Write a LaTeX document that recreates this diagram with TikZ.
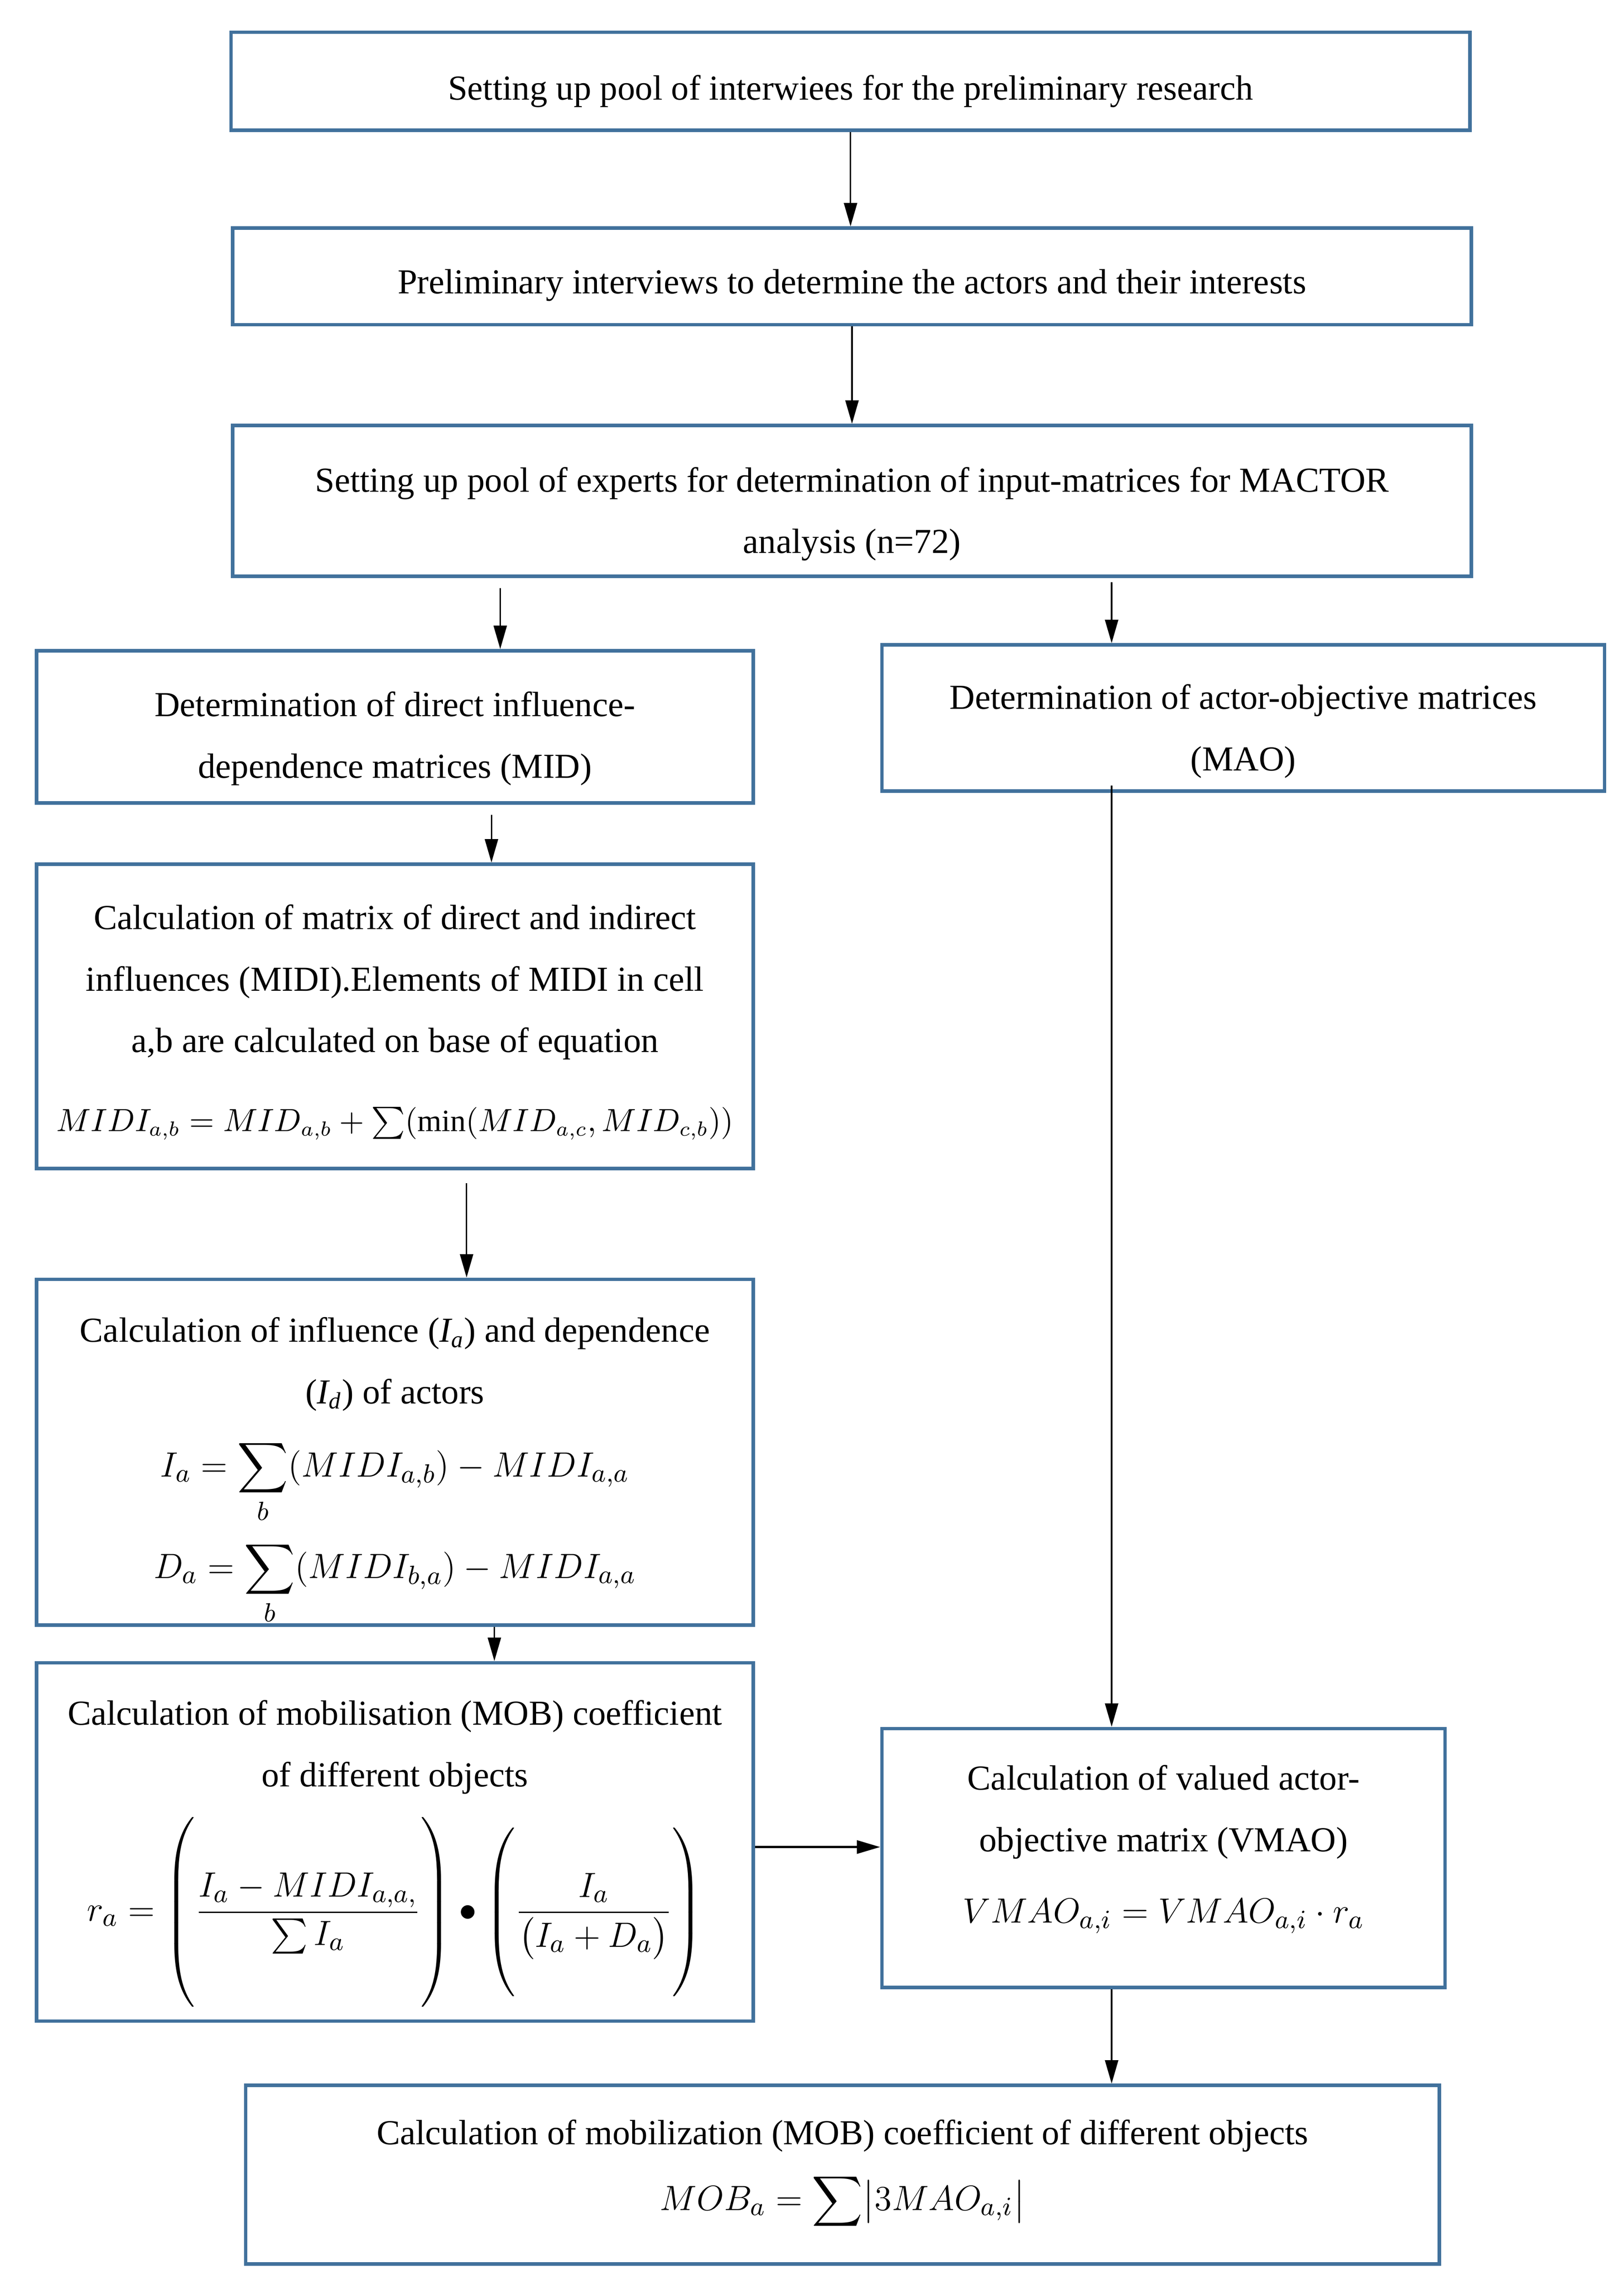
\documentclass[tikz,border=0pt]{standalone}
\usepackage{amsmath}
\usepackage{fontspec}
\setmainfont{Liberation Serif}
\usetikzlibrary{arrows.meta,positioning,calc}
\definecolor{boxblue}{RGB}{65,113,156}
\tikzset{
  stage/.style={draw=boxblue,line width=1.2pt,rectangle,align=center,inner sep=0pt,
    font=\fontsize{12}{21}\selectfont},
  flow/.style={-{Triangle[length=8pt,width=4.5pt]},line width=0.5pt},
}
\newcommand{\bigeq}[1]{{\fontsize{12.5}{15}\selectfont$\displaystyle #1$}}
\newcommand{\topgap}[1]{\rule{0pt}{#1}}
\newcommand{\botgap}[1]{\rule[-#1]{0pt}{#1}}

\begin{document}
\begin{tikzpicture}[x=0.5pt,y=-0.5pt]
\useasboundingbox (0,0) rectangle (1110,1562.5);

% top column
\node[stage,minimum width=423.5pt,minimum height=33.5pt] (pool) at (581.5,55.5) {\topgap{15.5pt}Setting up pool of interwiees for the preliminary research};
\node[stage,minimum width=423.5pt,minimum height=33pt] (prelim) at (582.5,189) {\topgap{14.5pt}Preliminary interviews to determine the actors and their interests};
\node[stage,minimum width=423.5pt,minimum height=51.5pt] (experts) at (582.5,342.5) {\topgap{17.5pt}Setting up pool of experts for determination of input-matrices for MACTOR\\analysis (n=72)};

% left branch
\node[stage,minimum width=245pt,minimum height=52pt] (mid) at (270,497) {\topgap{16.5pt}Determination of direct influence-\\dependence matrices (MID)};
\node[stage,minimum width=245pt,minimum height=104pt] (midi) at (270,695) {\topgap{12.5pt}Calculation of matrix of direct and indirect\\influences (MIDI).Elements of MIDI in cell\\a,b are calculated on base of equation\\[6pt]
  {\fontsize{10.6}{14}\selectfont$MIDI_{a,b}=MID_{a,b}+\sum(\min(MID_{a,c},MID_{c,b}))$}};
\node[stage,minimum width=245pt,minimum height=118pt] (infl) at (270,993) {\topgap{21.5pt}Calculation of influence ({\itshape I\textsubscript{a}}) and dependence\\({\itshape I\textsubscript{d}}) of actors\\[4pt]
  \bigeq{I_a=\sum_b(MIDI_{a,b})-MIDI_{a,a}}\\[5pt]
  \bigeq{D_a=\sum_b(MIDI_{b,a})-MIDI_{a,a}}};
\node[stage,minimum width=245pt,minimum height=122.5pt] (mob) at (270,1259.5) {\topgap{16.5pt}Calculation of mobilisation (MOB) coefficient\\of different objects\\[7pt]
  \bigeq{r_a=\left(\vrule height 29pt depth 29pt width 0pt\frac{I_a-MIDI_{a,a,}}{\sum I_a}\right)\bullet\left(\vrule height 25pt depth 25pt width 0pt\frac{I_a}{\bigl(I_a+D_a\bigr)}\right)}};

% right branch
\node[stage,minimum width=247pt,minimum height=50pt] (mao) at (850,491) {\topgap{17.5pt}Determination of actor-objective matrices\\(MAO)};
\node[stage,minimum width=192.5pt,minimum height=88.5pt] (vmao) at (795.5,1270.5) {Calculation of valued actor-\\objective matrix (VMAO)\\[3.5pt]
  \bigeq{VMAO_{a,i}=VMAO_{a,i}\cdot r_a}\botgap{9.5pt}};

% bottom
\node[stage,minimum width=408pt,minimum height=61pt] (final) at (576,1487) {Calculation of mobilization (MOB) coefficient of different objects\\[1.5pt]
  \bigeq{MOB_a=\sum\bigl|3MAO_{a,i}\bigr|}};

\draw[flow] (pool.south) -- (pool.south |- prelim.north);
\draw[flow] (prelim.south) -- (prelim.south |- experts.north);
\draw[flow] ($(experts.south -| mid.north)+(72,7)$) -- ($(mid.north)+(72,0)$);
\draw[flow] ($(experts.south -| mao.north)+(-90,3)$) -- ($(mao.north)+(-90,0)$);
\draw[flow] ($(mid.south)+(66,7)$) -- ($(midi.north)+(66,0)$);
\draw[flow] ($(midi.south)+(49,9)$) -- ($(infl.north)+(49,0)$);
\draw[flow] ($(infl.south)+(68,0)$) -- ($(mob.north)+(68,0)$);
\draw[flow] ($(mao.south)+(-90,-5)$) -- ($(vmao.north)+(-35.5,0)$);
\draw[flow,line width=0.8pt] ($(mob.east)+(0,3.5)$) -- ($(vmao.west)+(0,-7.5)$);
\draw[flow] ($(vmao.south)+(-35.5,0)$) -- ($(final.north)+(184,0)$);
\end{tikzpicture}
\end{document}
